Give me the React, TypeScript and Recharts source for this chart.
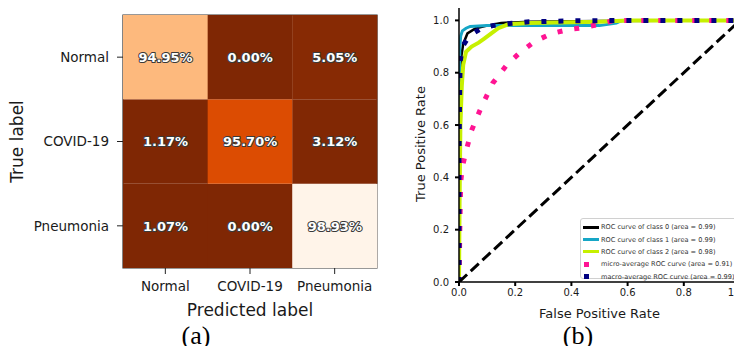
import React from 'react';
import {
  BarChart,
  Bar,
  Cell,
  LabelList,
  XAxis,
  YAxis,
  Label,
  ReferenceArea,
  LineChart,
  Line,
  Legend,
} from 'recharts';

// ---- (a) confusion matrix ----
const predictedLabels = ['Normal', 'COVID-19', 'Pneumonia'];
const trueLabels = ['Normal', 'COVID-19', 'Pneumonia'];
// rows = true label, columns = predicted label, in percent
const normalRow = [94.95, 0.0, 5.05];
const covidRow = [1.17, 95.7, 3.12];
const pneumoniaRow = [1.07, 0.0, 98.93];

// ---- (b) ROC curves ----
const class0Fpr = [0, 0, 0.003, 0.008, 0.015, 0.03, 0.06, 0.1, 0.15, 0.25, 0.5, 1];
const class0Tpr = [0, 0.55, 0.75, 0.86, 0.91, 0.95, 0.97, 0.98, 0.99, 0.995, 0.998, 1];
const class1Fpr = [0, 0, 0.003, 0.006, 0.012, 0.025, 0.04, 0.1, 0.5, 0.56, 0.58, 1];
const class1Tpr = [0, 0.7, 0.9, 0.94, 0.96, 0.97, 0.977, 0.98, 0.98, 0.99, 1, 1];
const class2Fpr = [0, 0.002, 0.005, 0.01, 0.015, 0.025, 0.045, 0.07, 0.09, 0.115, 0.14, 0.175, 0.25, 0.5, 0.6, 1];
const class2Tpr = [0, 0.3, 0.6, 0.75, 0.83, 0.88, 0.9, 0.915, 0.93, 0.95, 0.97, 0.985, 0.99, 0.995, 1, 1];
const microFpr = [0, 0.003, 0.006, 0.012, 0.025, 0.045, 0.08, 0.12, 0.17, 0.22, 0.27, 0.33, 0.39, 0.44, 0.5, 0.55, 1];
const microTpr = [0, 0.2, 0.38, 0.44, 0.5, 0.58, 0.67, 0.76, 0.83, 0.88, 0.92, 0.95, 0.965, 0.972, 0.985, 1, 1];
const macroFpr = [0, 0, 0.002, 0.004, 0.012, 0.03, 0.05, 0.08, 0.12, 0.18, 0.25, 0.4, 0.6, 1];
const macroTpr = [0, 0.45, 0.7, 0.84, 0.9, 0.93, 0.95, 0.97, 0.98, 0.988, 0.995, 0.998, 1, 1];
const chanceFpr = [0, 1];
const chanceTpr = [0, 1];
const rateTicks = [0, 0.2, 0.4, 0.6, 0.8, 1.0];

// colours picked off the Oranges_r map (they follow raw counts, not percent)
const cellColors = [
  ['#fdb97d', '#7f2704', '#872a04'],
  ['#7f2704', '#dc4c02', '#812804'],
  ['#7f2704', '#7f2704', '#fff4e9'],
];

const font = 'DejaVu Sans';
const ink = '#1a1a1a';

const rows = [normalRow, covidRow, pneumoniaRow];
const heatData = predictedLabels.map((p, j) => ({
  pred: p,
  r0: 1,
  r1: 1,
  r2: 1,
  v0: rows[0][j],
  v1: rows[1][j],
  v2: rows[2][j],
}));

const zip = (xs: number[], ys: number[]) => xs.map((x, i) => ({ x, y: ys[i] }));

const rocSeries = [
  { name: 'ROC curve of class 0 (area = 0.99)', data: zip(class0Fpr, class0Tpr), color: '#000000', width: 2.5, dash: undefined, marker: 'line' },
  { name: 'ROC curve of class 1 (area = 0.99)', data: zip(class1Fpr, class1Tpr), color: '#16a6c6', width: 3, dash: undefined, marker: 'line' },
  { name: 'ROC curve of class 2 (area = 0.98)', data: zip(class2Fpr, class2Tpr), color: '#c6f000', width: 4, dash: undefined, marker: 'line' },
  { name: 'micro-average ROC curve (area = 0.91)', data: zip(microFpr, microTpr), color: '#ff1493', width: 5, dash: '5 12', marker: 'square' },
  { name: 'macro-average ROC curve (area = 0.99)', data: zip(macroFpr, macroTpr), color: '#000080', width: 5, dash: '5 12', marker: 'square' },
];

function CellLabel(props: any) {
  const { x, y, width, height, value } = props;
  return (
    <text
      x={x + width / 2}
      y={y + height / 2}
      dy="0.36em"
      textAnchor="middle"
      fontFamily={font}
      fontWeight="bold"
      fontSize={13}
      fill="#fff"
      stroke="#3a3a3a"
      strokeWidth={2}
      strokeLinejoin="round"
      paintOrder="stroke"
    >
      {Number(value).toFixed(2)}%
    </text>
  );
}

function RotatedTitle({ viewBox, text, dx, size }: any) {
  const cx = viewBox.x + dx;
  const cy = viewBox.y + viewBox.height / 2;
  return (
    <text
      x={cx}
      y={cy}
      transform={`rotate(-90, ${cx}, ${cy})`}
      textAnchor="middle"
      dominantBaseline="central"
      fontFamily={font}
      fontSize={size}
      fill={ink}
    >
      {text}
    </text>
  );
}

function RocLegend() {
  return (
    <div
      style={{
        width: 160,
        height: 61,
        boxSizing: 'border-box',
        border: '1px solid #d0d0d0',
        borderRadius: 3,
        background: 'rgba(255,255,255,0.85)',
        paddingTop: 2,
      }}
    >
      {rocSeries.map((s) => (
        <div key={s.name} style={{ display: 'flex', alignItems: 'center', height: 12.4 }}>
          <div style={{ width: 20, display: 'flex', justifyContent: 'center', alignItems: 'center' }}>
            {s.marker === 'line' ? (
              <div style={{ width: 16, height: 3, background: s.color }} />
            ) : (
              <div style={{ width: 5, height: 5, background: s.color, marginLeft: -9 }} />
            )}
          </div>
          <span style={{ fontFamily: font, fontSize: 6.6, color: '#333', whiteSpace: 'nowrap' }}>{s.name}</span>
        </div>
      ))}
    </div>
  );
}

export default function App() {
  return (
    <div style={{ position: 'relative', width: 742, height: 354, margin: -8, overflow: 'hidden', background: '#fff' }}>
      <div style={{ position: 'absolute', left: 0, top: 0 }}>
        <BarChart
          width={390}
          height={330}
          data={heatData}
          margin={{ top: 15, right: 13, bottom: 0, left: 0 }}
          barCategoryGap={0}
          barGap={0}
        >
          <XAxis
            dataKey="pred"
            height={62}
            tickSize={6}
            tickMargin={7}
            axisLine={false}
            tickLine={{ stroke: '#222' }}
            tick={{ fontSize: 13.5, fill: ink, fontFamily: font }}
          >
            <Label value="Predicted label" position="insideBottom" offset={14} style={{ fontSize: 17, fill: ink, fontFamily: font }} />
          </XAxis>
          <YAxis
            type="number"
            domain={[0, 3]}
            ticks={[0.5, 1.5, 2.5]}
            tickFormatter={(v: number) => trueLabels[2 - Math.floor(v)]}
            width={123}
            tickSize={6}
            tickMargin={8}
            axisLine={false}
            tickLine={{ stroke: '#222' }}
            tick={{ fontSize: 13.5, fill: ink, fontFamily: font }}
          >
            <Label content={(p: any) => <RotatedTitle viewBox={p.viewBox} text="True label" dx={17} size={17} />} />
          </YAxis>
          {[2, 1, 0].map((r) => (
            <Bar key={r} dataKey={`r${r}`} stackId="cm" isAnimationActive={false}>
              {heatData.map((d, j) => (
                <Cell key={d.pred} fill={cellColors[r][j]} />
              ))}
              <LabelList dataKey={`v${r}`} content={CellLabel} />
            </Bar>
          ))}
          <ReferenceArea y1={0} y2={3} fill="none" stroke="#333" strokeWidth={1.2} />
        </BarChart>
      </div>

      <div style={{ position: 'absolute', left: 400, top: 0 }}>
        <LineChart width={342} height={330} margin={{ top: 1, right: 0, bottom: 0, left: 0 }}>
          <XAxis
            type="number"
            dataKey="x"
            domain={[0, 1]}
            ticks={rateTicks}
            tickFormatter={(v: number) => v.toFixed(1)}
            height={48}
            tickSize={4}
            tickMargin={3}
            axisLine={{ stroke: '#000', strokeWidth: 1.5 }}
            tickLine={{ stroke: '#000', strokeWidth: 2 }}
            tick={{ fontSize: 10, fill: ink, fontFamily: font }}
            allowDataOverflow
          >
            <Label value="False Positive Rate" position="insideBottom" offset={12.5} style={{ fontSize: 13, fill: ink, fontFamily: font }} />
          </XAxis>
          <XAxis
            xAxisId="top"
            orientation="top"
            type="number"
            dataKey="x"
            domain={[0, 1]}
            ticks={rateTicks}
            height={5}
            tickSize={4}
            tick={false}
            axisLine={{ stroke: '#000', strokeWidth: 1.5 }}
            tickLine={{ stroke: '#000', strokeWidth: 2 }}
            allowDataOverflow
          />
          <YAxis
            type="number"
            domain={[0, 1.055]}
            ticks={rateTicks}
            tickFormatter={(v: number) => v.toFixed(1)}
            width={59}
            tickSize={4}
            tickMargin={6}
            axisLine={{ stroke: '#000', strokeWidth: 1.5 }}
            tickLine={{ stroke: '#000', strokeWidth: 2 }}
            tick={{ fontSize: 10, fill: ink, fontFamily: font }}
            allowDataOverflow
          >
            <Label content={(p: any) => <RotatedTitle viewBox={p.viewBox} text="True Positive Rate" dx={20} size={13} />} />
          </YAxis>
          <YAxis
            yAxisId="right"
            orientation="right"
            type="number"
            domain={[0, 1.055]}
            ticks={rateTicks}
            width={2}
            tickSize={4}
            tick={false}
            axisLine={{ stroke: '#000', strokeWidth: 1.5 }}
            tickLine={{ stroke: '#000', strokeWidth: 2 }}
            allowDataOverflow
          />
          {rocSeries.map((s) => (
            <Line
              key={s.name}
              data={s.data}
              dataKey="y"
              name={s.name}
              type="linear"
              stroke={s.color}
              strokeWidth={s.width}
              strokeDasharray={s.dash}
              dot={false}
              activeDot={false}
              isAnimationActive={false}
            />
          ))}
          <Line
            data={zip(chanceFpr, chanceTpr)}
            dataKey="y"
            xAxisId="top"
            yAxisId="right"
            type="linear"
            stroke="#000"
            strokeWidth={3}
            strokeDasharray="11 5"
            dot={false}
            activeDot={false}
            legendType="none"
            isAnimationActive={false}
          />
          <Legend
            layout="horizontal"
            verticalAlign="middle"
            align="center"
            wrapperStyle={{ position: 'absolute', left: 180, top: 218, width: 160, height: 61 }}
            content={() => <RocLegend />}
          />
        </LineChart>
      </div>

      <svg width={742} height={354} style={{ position: 'absolute', left: 0, top: 0, pointerEvents: 'none' }}>
        <text x={196} y={344} textAnchor="middle" fontFamily="Liberation Serif" fontSize={26} fill="#000">
          (a)
        </text>
        <text x={578} y={344} textAnchor="middle" fontFamily="Liberation Serif" fontSize={26} fill="#000">
          (b)
        </text>
      </svg>
    </div>
  );
}
